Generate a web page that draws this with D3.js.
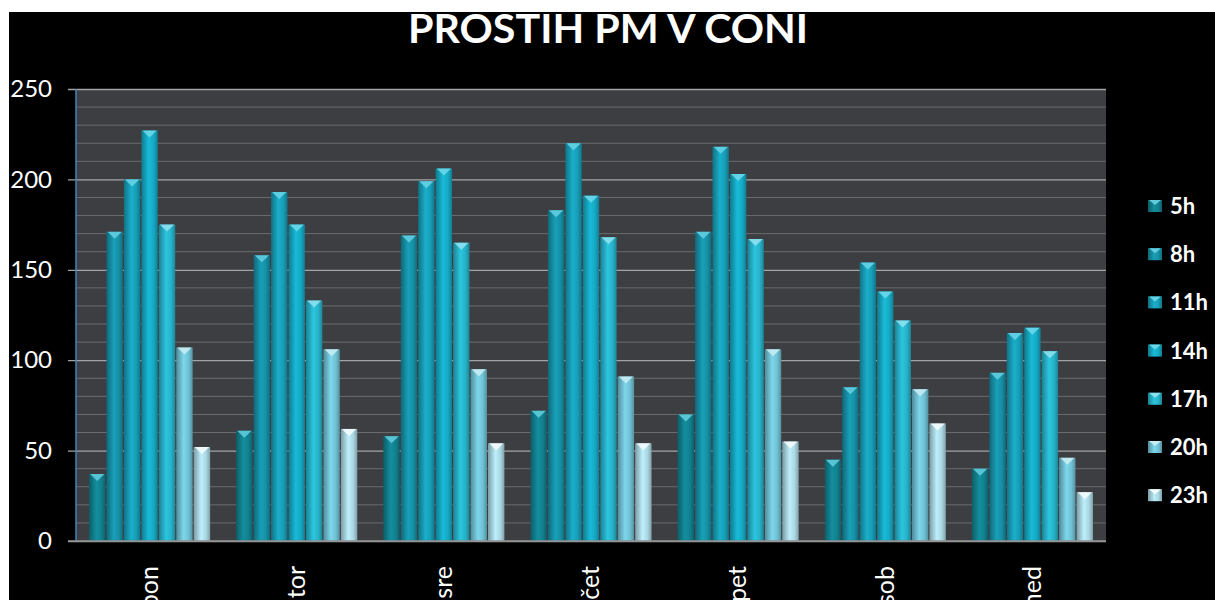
<!DOCTYPE html>
<html>
<head>
<meta charset="utf-8">
<script src="https://cdn.jsdelivr.net/npm/d3@7"></script>
<style>
  body { margin: 0; background: #fff; }
  svg { display: block; }
</style>
</head>
<body>
<script>
// categories and series
var days = ["pon", "tor", "sre", "čet", "pet", "sob", "ned"];
var hours = ["5h", "8h", "11h", "14h", "17h", "20h", "23h"];

var h5  = [37, 61, 58, 72, 70, 45, 40];
var h8  = [171, 158, 169, 183, 171, 85, 93];
var h11 = [200, 193, 199, 220, 218, 154, 115];
var h14 = [227, 175, 206, 191, 203, 138, 118];
var h17 = [175, 133, 165, 168, 167, 122, 105];
var h20 = [107, 106, 95, 91, 106, 84, 46];
var h23 = [52, 62, 54, 54, 55, 65, 27];

var yTicks = [0, 50, 100, 150, 200, 250];

var colors = ["#12808f", "#1690a5", "#179db6", "#16a8c3", "#27b2c9", "#70c1d4", "#aad7e2"];
var capColors = ["#5fcbdb", "#62cde0", "#66d3e6", "#6ad8ea", "#8ce0ee", "#c8ecf3", "#f4fbfd"];

var series = [h5, h8, h11, h14, h17, h20, h23];

// build a table for d3
var data = days.map(function(d, i) {
    var row = { day: d };
    hours.forEach(function(h, j) { row[h] = series[j][i]; });
    return row;
});

// set the dimensions and margins of the graph
var margin = {top: 89, right: 109, bottom: 59, left: 76},
    width = 1215 - margin.left - margin.right,
    height = 600 - margin.top - margin.bottom;

var svg = d3.select("body").append("svg")
    .attr("width", 1215)
    .attr("height", 600);

var defs = svg.append("defs");
colors.forEach(function(c, i) {
    var g = defs.append("linearGradient")
        .attr("id", "grad" + i)
        .attr("x1", "0%").attr("x2", "100%")
        .attr("y1", "0%").attr("y2", "0%");
    g.append("stop").attr("offset", "0%").attr("stop-color", d3.color(c).darker(0.9));
    g.append("stop").attr("offset", "45%").attr("stop-color", d3.color(c).brighter(0.3));
    g.append("stop").attr("offset", "75%").attr("stop-color", c);
    g.append("stop").attr("offset", "100%").attr("stop-color", d3.color(c).darker(0.8));
});

// black background with white border strips
svg.append("rect")
    .attr("x", 9).attr("y", 12)
    .attr("width", 1215 - 9).attr("height", 600 - 12)
    .attr("fill", "#000");

var g = svg.append("g")
    .attr("transform", "translate(" + margin.left + "," + margin.top + ")");

// set the ranges
var x0 = d3.scaleBand()
    .domain(days)
    .range([0, width])
    .paddingInner(0.177)
    .paddingOuter(0.0885);
var x1 = d3.scaleBand()
    .domain(hours)
    .range([0, x0.bandwidth()])
    .paddingInner(0.06);
var y = d3.scaleLinear()
    .domain([0, 250])
    .range([height, 0]);

// plot area
g.append("rect")
    .attr("width", width)
    .attr("height", height)
    .attr("fill", "#3c3e41");

// minor gridlines
g.append("g")
    .selectAll("line")
    .data(d3.range(10, 250, 10).filter(function(v) { return v % 50 !== 0; }))
    .enter().append("line")
    .attr("x1", 0).attr("x2", width)
    .attr("y1", function(d) { return y(d); })
    .attr("y2", function(d) { return y(d); })
    .attr("stroke", "#6a6c6f")
    .attr("stroke-width", 1);

// y axis with major gridlines
var yAxis = g.append("g")
    .call(d3.axisLeft(y).tickValues(yTicks).tickSize(-width).tickPadding(24));
yAxis.select(".domain").remove();
yAxis.selectAll(".tick line")
    .attr("x1", -8)
    .attr("stroke", "#a2a4a6")
    .attr("stroke-width", 1.3);
yAxis.selectAll(".tick text")
    .attr("fill", "#fff")
    .attr("font-family", "Lato, 'Open Sans', sans-serif")
    .attr("font-size", "24px");

// left axis line
g.append("line")
    .attr("x1", 0).attr("x2", 0)
    .attr("y1", 0).attr("y2", height)
    .attr("stroke", "#3f86c0")
    .attr("stroke-width", 1.5);

// bars
var groups = g.selectAll(".day")
    .data(data)
    .enter().append("g")
    .attr("class", "day")
    .attr("transform", function(d) { return "translate(" + x0(d.day) + ",0)"; });

var bars = groups.selectAll(".bar")
    .data(function(d) { return hours.map(function(h, j) { return {key: h, idx: j, value: d[h]}; }); })
    .enter();

bars.append("rect")
    .attr("class", "bar")
    .attr("x", function(d) { return x1(d.key); })
    .attr("width", x1.bandwidth())
    .attr("y", function(d) { return y(d.value); })
    .attr("height", function(d) { return height - y(d.value); })
    .attr("fill", function(d) { return "url(#grad" + d.idx + ")"; });

// bevel caps on top of bars
bars.append("path")
    .attr("d", function(d) {
        var bx = x1(d.key), bw = x1.bandwidth(), by = y(d.value);
        return "M" + (bx + 1) + "," + by + "L" + (bx + bw - 1) + "," + by +
            "L" + (bx + bw / 2) + "," + (by + 7) + "Z";
    })
    .attr("fill", function(d) { return capColors[d.idx]; })
    .attr("opacity", 0.9);

// x baseline
g.append("line")
    .attr("x1", -8).attr("x2", width)
    .attr("y1", height).attr("y2", height)
    .attr("stroke", "#8e9092")
    .attr("stroke-width", 1.5);

// x labels (cut by the bottom edge, as in the original)
g.append("g")
    .selectAll("text")
    .data(days)
    .enter().append("text")
    .attr("transform", function(d) {
        return "translate(" + (x0(d) + x0.bandwidth() / 2) + "," + (height + 25) + ") rotate(-90)";
    })
    .attr("dy", "0.33em")
    .attr("text-anchor", "end")
    .attr("fill", "#fff")
    .attr("font-family", "Lato, 'Open Sans', sans-serif")
    .attr("font-size", "25px")
    .text(function(d) { return d; });

// title
svg.append("text")
    .attr("x", 608)
    .attr("y", 43)
    .attr("text-anchor", "middle")
    .attr("fill", "#fff")
    .attr("font-family", "Lato, 'Open Sans', sans-serif")
    .attr("font-weight", "bold")
    .attr("font-size", "41px")
    .attr("textLength", 400)
    .attr("lengthAdjust", "spacingAndGlyphs")
    .text("PROSTIH PM V CONI");

// legend
var legend = svg.append("g")
    .selectAll("g")
    .data(hours)
    .enter().append("g")
    .attr("transform", function(d, i) { return "translate(1148," + (206 + i * 48.2) + ")"; });

legend.append("rect")
    .attr("x", 0).attr("y", -6)
    .attr("width", 14).attr("height", 12)
    .attr("fill", function(d, i) { return "url(#grad" + i + ")"; });

legend.append("path")
    .attr("d", "M1,-6L13,-6L7,-1Z")
    .attr("fill", function(d, i) { return capColors[i]; });

legend.append("text")
    .attr("x", 22)
    .attr("dy", "0.36em")
    .attr("fill", "#fff")
    .attr("font-family", "Lato, 'Open Sans', sans-serif")
    .attr("font-weight", "bold")
    .attr("font-size", "22px")
    .text(function(d) { return d; });
</script>
</body>
</html>
